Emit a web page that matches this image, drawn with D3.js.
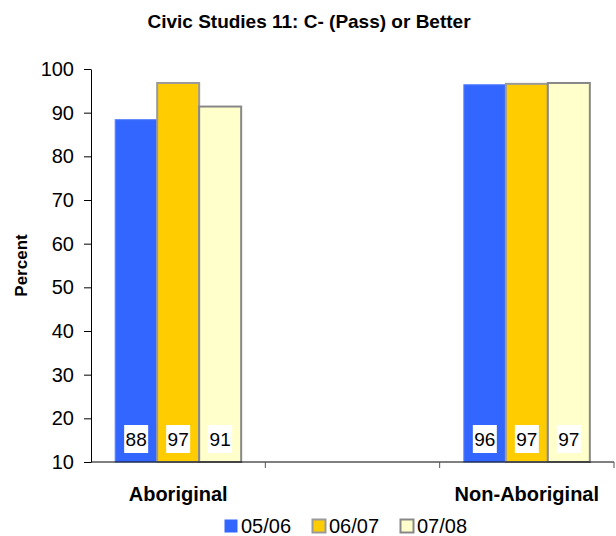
<!DOCTYPE html>
<html>
<head>
<meta charset="utf-8">
<script src="https://d3js.org/d3.v7.min.js"></script>
<style>
  body { margin: 0; background: #fff; }
  text { font-family: Arial, "Liberation Sans", sans-serif; }
</style>
</head>
<body>
<div id="chart-area"></div>
<script>
// Chart data
const categories = ["Aboriginal", "", "Non-Aboriginal"]; // middle slot is empty
const series = ["05/06", "06/07", "07/08"];
const values = {
  "Aboriginal": [88.4, 96.8, 91.4],
  "Non-Aboriginal": [96.4, 96.6, 96.8],
};
const yTicks = [10, 20, 30, 40, 50, 60, 70, 80, 90, 100];

(function () {
  const width = 616;
  const height = 536;
  const margin = { top: 69, right: 2, bottom: 74, left: 91 };

  const fills = ["#3366FF", "#FFCC00", "#FFFFCC"];
  const strokes = ["#5b82ff", "#9a9a9a", "#888888"];

  const svg = d3
    .select("#chart-area")
    .append("svg")
    .attr("width", width)
    .attr("height", height);

  // Scales
  const x = d3
    .scaleBand()
    .domain(categories)
    .range([margin.left, width - margin.right]);

  const groupWidth = 126;
  const xInner = d3
    .scaleBand()
    .domain(series)
    .range([(x.bandwidth() - groupWidth) / 2, (x.bandwidth() + groupWidth) / 2]);

  const y = d3
    .scaleLinear()
    .domain([10, 100])
    .range([height - margin.bottom, margin.top]);

  // Title
  svg
    .append("text")
    .attr("x", 309)
    .attr("y", 28)
    .attr("text-anchor", "middle")
    .attr("font-size", 19)
    .attr("font-weight", "bold")
    .text("Civic Studies 11: C- (Pass) or Better");

  // Bars
  const groups = svg
    .selectAll(".group")
    .data(categories.filter((c) => values[c]))
    .join("g")
    .attr("class", "group")
    .attr("transform", (c) => `translate(${x(c)},0)`);

  groups
    .selectAll("rect.bar")
    .data((c) => values[c].map((v, i) => ({ key: series[i], value: v, i: i })))
    .join("rect")
    .attr("class", "bar")
    .attr("x", (d) => xInner(d.key))
    .attr("y", (d) => y(d.value))
    .attr("width", xInner.bandwidth())
    .attr("height", (d) => y(10) - y(d.value))
    .attr("fill", (d) => fills[d.i])
    .attr("stroke", (d) => strokes[d.i])
    .attr("stroke-width", (d) => (d.i === 0 ? 1 : 2));

  // Data labels (white boxes near the base)
  const labels = groups
    .selectAll("g.label")
    .data((c) => values[c].map((v, i) => ({ key: series[i], value: v })))
    .join("g")
    .attr("class", "label")
    .attr(
      "transform",
      (d) => `translate(${xInner(d.key) + xInner.bandwidth() / 2},${y(10) - 23})`
    );

  labels
    .append("rect")
    .attr("x", -12)
    .attr("y", -14)
    .attr("width", 24)
    .attr("height", 28)
    .attr("fill", "#fff");

  labels
    .append("text")
    .attr("text-anchor", "middle")
    .attr("dy", "0.36em")
    .attr("font-size", 19)
    .text((d) => Math.round(d.value));

  // Y axis
  const yAxis = svg
    .append("g")
    .attr("transform", `translate(${margin.left},0)`)
    .call(d3.axisLeft(y).tickValues(yTicks).tickSize(7).tickPadding(10).tickSizeOuter(0));
  yAxis.select(".domain").attr("stroke", "#000");
  yAxis.selectAll(".tick line").attr("stroke", "#000");
  yAxis
    .selectAll(".tick text")
    .attr("font-size", 20)
    .attr("font-family", "Arial, 'Liberation Sans', sans-serif")
    .attr("fill", "#000");

  // X axis line and band boundary ticks
  svg
    .append("line")
    .attr("x1", margin.left)
    .attr("x2", width - margin.right)
    .attr("y1", y(10))
    .attr("y2", y(10))
    .attr("stroke", "#000");

  svg
    .selectAll(".xtick")
    .data(categories)
    .join("line")
    .attr("class", "xtick")
    .attr("x1", (c) => x(c) + x.bandwidth())
    .attr("x2", (c) => x(c) + x.bandwidth())
    .attr("y1", y(10))
    .attr("y2", y(10) + 6)
    .attr("stroke", "#555");

  svg
    .selectAll(".xlabel")
    .data(categories)
    .join("text")
    .attr("class", "xlabel")
    .attr("x", (c) => x(c) + x.bandwidth() / 2)
    .attr("y", 501)
    .attr("text-anchor", "middle")
    .attr("font-size", 20)
    .attr("font-weight", "bold")
    .text((c) => c);

  // Y axis title
  svg
    .append("text")
    .attr("transform", `translate(27,${(y(10) + y(100)) / 2}) rotate(-90)`)
    .attr("text-anchor", "middle")
    .attr("font-size", 17)
    .attr("font-weight", "bold")
    .text("Percent");

  // Legend
  const legend = svg
    .selectAll(".legend")
    .data(series)
    .join("g")
    .attr("class", "legend")
    .attr("transform", (d, i) => `translate(${224 + i * 88},519)`);

  legend
    .append("rect")
    .attr("x", 0.5)
    .attr("y", 0.5)
    .attr("width", 13)
    .attr("height", 13)
    .attr("fill", (d, i) => fills[i])
    .attr("stroke", (d, i) => (i === 0 ? "none" : strokes[i]))
    .attr("stroke-width", 2);

  legend
    .append("text")
    .attr("x", 17)
    .attr("y", 14)
    .attr("font-size", 20)
    .text((d) => d);
})();
</script>
</body>
</html>
